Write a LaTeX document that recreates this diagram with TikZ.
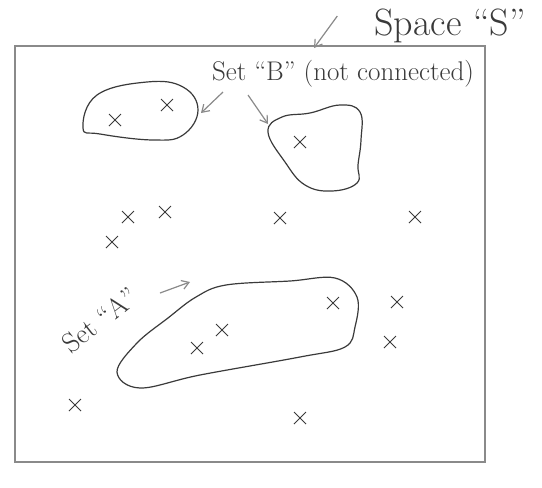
\documentclass[tikz,border=0pt]{standalone}
\usepackage{fontspec}
\usepackage{tikz}
\usetikzlibrary{arrows.meta, positioning, shapes.misc}
\definecolor{pencil}{HTML}{3A3A3A}
\definecolor{pencilsoft}{HTML}{8A8A8A}
\tikzset{
    space/.style={draw=pencilsoft, line width=1.6pt},
    blob/.style={draw=pencil, line width=1.2pt},
    pt/.style={cross out, draw=pencil, line width=1pt, minimum size=11pt, inner sep=0pt},
    note/.style={text=pencil, inner sep=1pt},
    arr/.style={-{Straight Barb[length=7pt, width=9pt]}, line width=1.2pt, color=pencilsoft},
}
\begin{document}
\begin{tikzpicture}[x=1pt, y=-1pt]
  \useasboundingbox (0,0) rectangle (542,488);

  % the space S
  \draw[space] (15,46) rectangle (485,462);
  \node[note, font=\fontsize{38}{42}\selectfont] (lblS) at (450,26) {Space ``S''};
  \coordinate (cornerS) at (314,48);
  \draw[arr] (lblS.west) ++(-36,-10) -- (cornerS);

  % set B, two pieces
  \draw[blob] plot[smooth cycle, tension=0.7] coordinates
        {(83,128) (97,95) (147,82) (183,87) (198,110) (183,135) (153,140) (100,134)};
  \coordinate (B1) at (201,113);
  \draw[blob] plot[smooth cycle, tension=0.7] coordinates
        {(268,132) (282,117) (310,113) (340,105) (360,112) (361,140) (358,165) (357,183) (332,191) (305,185) (285,162)};
  \coordinate (B2) at (268,124);
  \node[note, font=\fontsize{27}{30}\selectfont] (lblB) at (343,74) {Set ``B'' (not connected)};
  \draw[arr] (223,92) -- (B1);
  \draw[arr] (248,95) -- (B2);

  % set A
  \draw[blob] plot[smooth cycle, tension=0.6] coordinates
        {(117,372) (137,343) (168,318) (196,297) (226,285) (290,281) (335,278) (357,297) (355,327) (345,347) (300,357) (200,375) (140,388)};
  \coordinate (A) at (190,282);
  \node[note, rotate=38, font=\fontsize{28}{32}\selectfont] (lblA) at (100,320) {Set ``A''};
  \draw[arr] (160,293) -- (A);

  % points
  \foreach \px/\py in {115/120, 167/105, 300/142,
                      197/348, 222/330, 333/303,
                      128/217, 165/212, 112/242, 280/218, 415/217,
                      397/302, 390/342, 75/405, 300/418}
    \node[pt] at (\px,\py) {};

\end{tikzpicture}
\end{document}
